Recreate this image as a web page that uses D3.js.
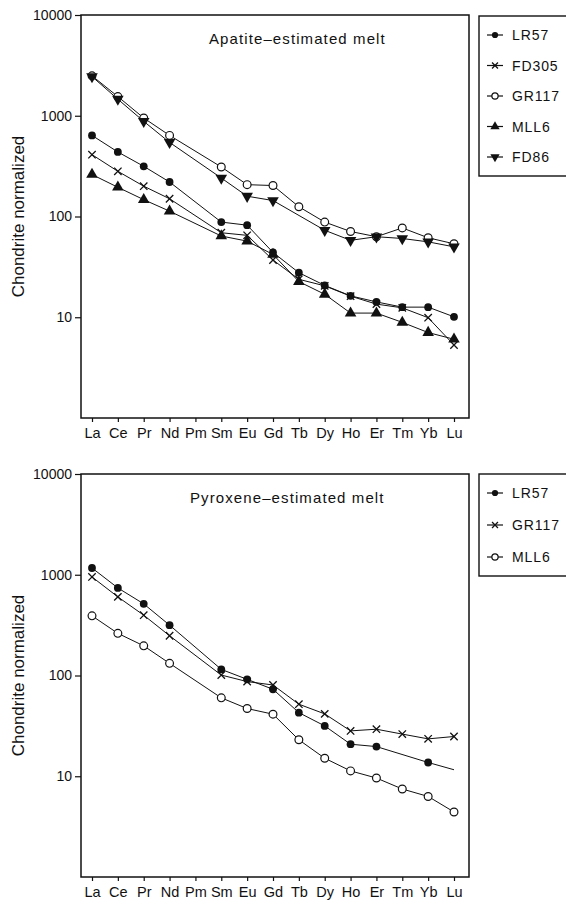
<!DOCTYPE html>
<html>
<head>
<meta charset="utf-8">
<script src="https://cdnjs.cloudflare.com/ajax/libs/d3/7.8.5/d3.min.js"></script>
<style>
  body { margin: 0; background: #fff; }
  svg { display: block; font-family: "Liberation Sans", Arial, Helvetica, sans-serif; }
</style>
</head>
<body>
<svg id="chart" width="566" height="904"></svg>
<script>
// Globals.
var ELEMENTS = ['La', 'Ce', 'Pr', 'Nd', 'Pm', 'Sm', 'Eu', 'Gd', 'Tb', 'Dy', 'Ho', 'Er', 'Tm', 'Yb', 'Lu'];
var Y_TICKS = [10, 100, 1000, 10000];

// Apatite-estimated melt (null = not measured).
var apLR57  = [638, 437, 315, 220, null, 88, 82, 44, 27.7, 20.7, 16.3, 14.2, 12.6, 12.6, 10.1];
var apFD305 = [411, 281, 200, 150, null, 69, 65, 37, 23.8, 20.5, 16.2, 13.5, 12.4, 9.9, 5.3];
var apGR117 = [2490, 1550, 950, 638, null, 310, 207, 203, 125, 88, 71, 63, 77, 61.5, 53.6];
var apMLL6  = [261, 195, 147, 113, null, 64, 57, 42, 22.6, 16.9, 11.0, 11.0, 8.9, 7.05, 6.05];
var apFD86  = [2450, 1460, 880, 544, null, 241, 159, 144, null, 73, 58, 63, 60.5, 56, 50];

// Pyroxene-estimated melt. LR57 Lu is a line end without a symbol.
var pxLR57  = [1167, 740, 514, 316, null, 115, 91.6, 73, 42.8, 31.6, 20.8, 19.7, null, 13.7, 11.6];
var pxGR117 = [951, 603, 397, 248, null, 101, 87, 80.5, 51.9, 41.6, 28.2, 29.3, 26.2, 23.5, 24.8];
var pxMLL6  = [391, 262, 197, 132, null, 60, 47, 41.3, 23, 15.1, 11.3, 9.6, 7.47, 6.3, 4.42];
var pxLR57Bare = ['Lu'];

var svg = d3.select('#chart');

/**
 * drawMarker
 * ==========
 * Appends one symbol of the given kind centred on x, y.
 */
var drawMarker = function(g, kind, x, y, s) {
  if (kind === 'dot') {
    g.append('circle').attr('cx', x).attr('cy', y).attr('r', 3.9 * s).attr('fill', '#111');
  } else if (kind === 'ring') {
    g.append('circle').attr('cx', x).attr('cy', y).attr('r', 3.9 * s)
      .attr('fill', '#fff').attr('stroke', '#111').attr('stroke-width', 1.2);
  } else if (kind === 'cross') {
    var c = 3.7 * s;
    g.append('path')
      .attr('d', 'M' + (x - c) + ',' + (y - c) + 'L' + (x + c) + ',' + (y + c) +
                 'M' + (x - c) + ',' + (y + c) + 'L' + (x + c) + ',' + (y - c))
      .attr('stroke', '#111').attr('stroke-width', 1.3).attr('fill', 'none');
  } else if (kind === 'up' || kind === 'down') {
    var sym = d3.symbol().type(d3.symbolTriangle).size(58 * s * s);
    g.append('path').attr('d', sym())
      .attr('transform', 'translate(' + x + ',' + y + ')' + (kind === 'down' ? ' rotate(180)' : ''))
      .attr('fill', '#111');
  }
};

/**
 * drawPanel
 * =========
 * One REE diagram: frame, axes, series and legend box.
 */
var drawPanel = function(top, bottom, title, titleX, series, legendY) {
  var g = svg.append('g');
  var x = d3.scalePoint().domain(ELEMENTS).range([92, 454]);
  var y = d3.scaleLog().domain([1, 10000]).range([bottom, top]);

  // y axis
  var yAxis = g.append('g').attr('transform', 'translate(81,0)')
    .call(d3.axisLeft(y).tickValues(Y_TICKS).tickFormat(d3.format('d'))
      .tickSize(6).tickPadding(3).tickSizeOuter(0));
  yAxis.select('.domain').remove();
  yAxis.selectAll('line').attr('stroke', '#111').attr('stroke-width', 1.2);
  yAxis.selectAll('text').attr('font-size', 14).attr('fill', '#111')
    .attr('font-family', '"Liberation Sans", Arial, sans-serif');

  // x axis
  var xAxis = g.append('g').attr('transform', 'translate(0,' + bottom + ')')
    .call(d3.axisBottom(x).tickSize(4).tickPadding(6).tickSizeOuter(0));
  xAxis.select('.domain').remove();
  xAxis.selectAll('line').attr('stroke', '#111').attr('stroke-width', 1.2);
  xAxis.selectAll('text').attr('font-size', 14.5).attr('fill', '#111')
    .attr('font-family', '"Liberation Sans", Arial, sans-serif');

  // frame
  g.append('rect').attr('x', 81).attr('y', top).attr('width', 469 - 81).attr('height', bottom - top)
    .attr('fill', 'none').attr('stroke', '#111').attr('stroke-width', 1.5);

  // y label
  g.append('text')
    .attr('transform', 'translate(24,' + ((top + bottom) / 2) + ') rotate(-90)')
    .attr('text-anchor', 'middle').attr('font-size', 17).attr('fill', '#111')
    .text('Chondrite normalized');

  // title
  g.append('text').attr('x', titleX).attr('y', top + 29)
    .attr('font-size', 15).attr('letter-spacing', 1.1).attr('fill', '#111')
    .text(title);

  // series
  series.forEach(function(s) {
    var pts = ELEMENTS.map(function(el, i) { return {el: el, v: s.values[i]}; })
      .filter(function(d) { return d.v !== null; });
    var line = d3.line().x(function(d) { return x(d.el); }).y(function(d) { return y(d.v); });
    g.append('path').datum(pts).attr('d', line)
      .attr('fill', 'none').attr('stroke', '#111').attr('stroke-width', 1);
  });
  series.forEach(function(s) {
    var mg = g.append('g');
    ELEMENTS.forEach(function(el, i) {
      var v = s.values[i];
      if (v === null || (s.bare && s.bare.indexOf(el) >= 0)) return;
      drawMarker(mg, s.marker, x(el), y(v), 1);
    });
  });

  // legend
  var lg = g.append('g');
  var step = legendY[1] - legendY[0];
  lg.append('rect').attr('x', 479).attr('y', legendY[0] - 19)
    .attr('width', 100).attr('height', (series.length - 1) * step + 38)
    .attr('fill', '#fff').attr('stroke', '#111').attr('stroke-width', 1.4);
  series.forEach(function(s, i) {
    var ly = legendY[0] + i * step;
    lg.append('line').attr('x1', 487).attr('x2', 503).attr('y1', ly).attr('y2', ly)
      .attr('stroke', '#111').attr('stroke-width', 1.2);
    drawMarker(lg, s.marker, 495, ly, 0.8);
    lg.append('text').attr('x', 512).attr('y', ly + 5)
      .attr('font-size', 14).attr('letter-spacing', 0.9).attr('fill', '#111')
      .text(s.name);
  });
};

drawPanel(15, 418, 'Apatite\u2013estimated melt', 209, [
  {name: 'LR57', values: apLR57, marker: 'dot'},
  {name: 'FD305', values: apFD305, marker: 'cross'},
  {name: 'GR117', values: apGR117, marker: 'ring'},
  {name: 'MLL6', values: apMLL6, marker: 'up'},
  {name: 'FD86', values: apFD86, marker: 'down'}
], [35, 65.5]);

drawPanel(474, 877, 'Pyroxene\u2013estimated melt', 190, [
  {name: 'LR57', values: pxLR57, marker: 'dot', bare: pxLR57Bare},
  {name: 'GR117', values: pxGR117, marker: 'cross'},
  {name: 'MLL6', values: pxMLL6, marker: 'ring'}
], [493, 525]);
</script>
</body>
</html>
